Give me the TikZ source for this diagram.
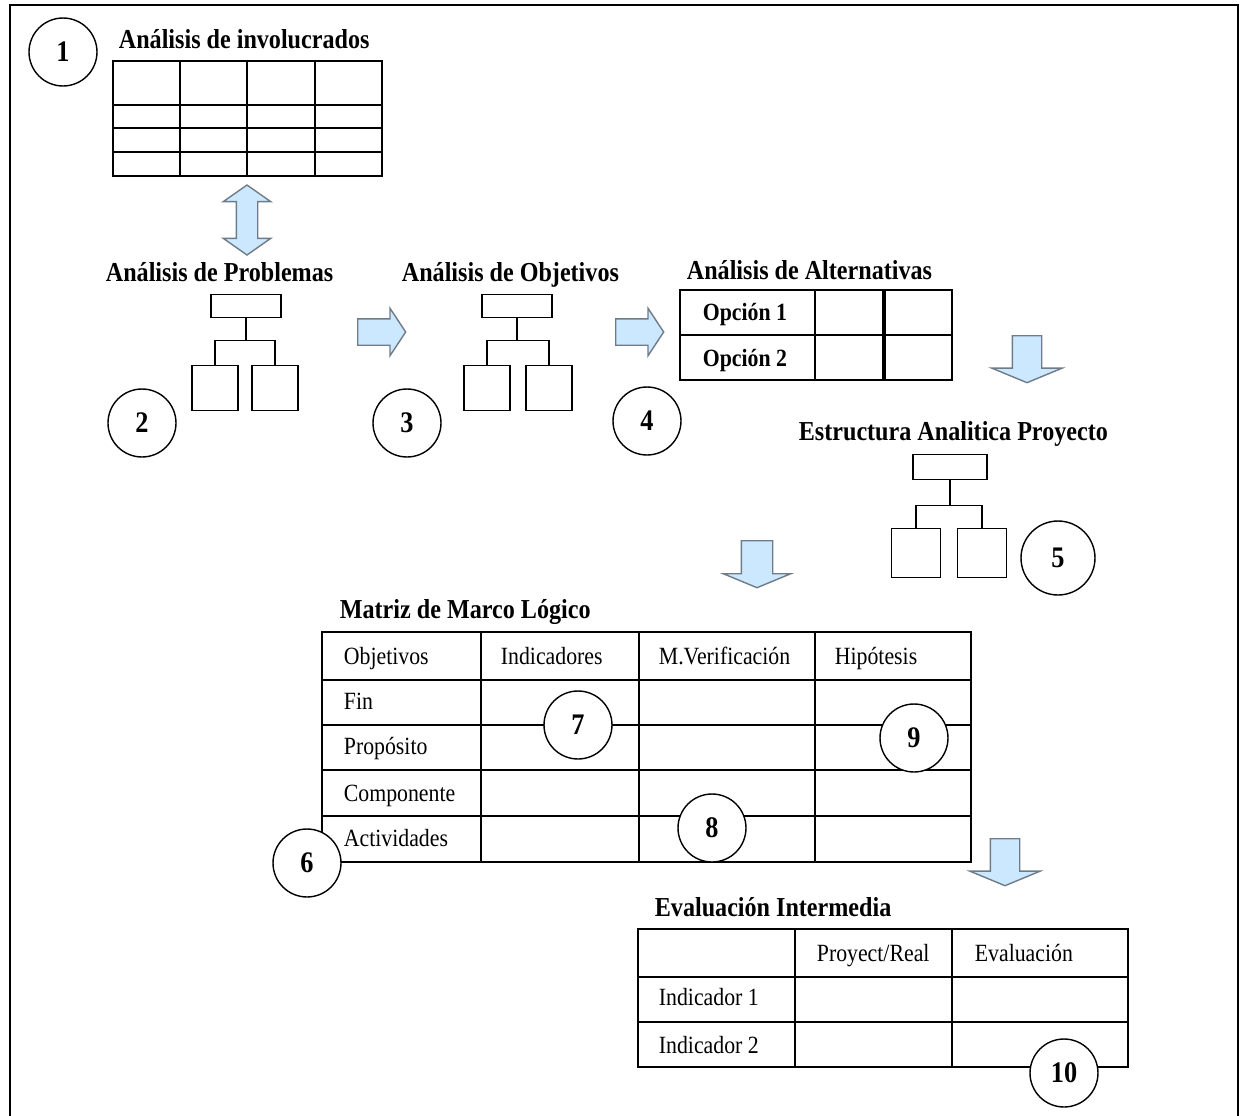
\documentclass[tikz,border=0pt]{standalone}
\usepackage{fontspec}
\setmainfont[FakeStretch=0.88]{Liberation Serif}
\usetikzlibrary{shapes.arrows}
\definecolor{flecha}{HTML}{CCE8FF}
\definecolor{borde}{HTML}{6F7C88}
\begin{document}
\begin{tikzpicture}[x=0.02cm,y=-0.02cm,line width=1pt]
        \tikzstyle{numero}=[circle,draw,fill=white,line width=0.8pt,minimum size=1.36cm,inner sep=0pt,font=\fontsize{17}{17}\selectfont\bfseries]
        \tikzstyle{titulo}=[anchor=west,inner sep=0pt,yshift=-0.08cm,text height=0.72em,text depth=0.2em,font=\fontsize{15.6}{16}\selectfont\bfseries]
        \tikzstyle{celda}=[anchor=west,inner sep=0pt,yshift=-0.08cm,text height=0.72em,text depth=0.2em,font=\fontsize{14.1}{15}\selectfont]
        \tikzstyle{cajita}=[draw,minimum width=1.4cm,minimum height=0.46cm,inner sep=0pt]
        \tikzstyle{caja}=[draw,minimum width=0.92cm,minimum height=0.9cm,inner sep=0pt]
        \tikzstyle{bloque}=[draw=borde,fill=flecha,line width=0.8pt,inner xsep=0pt]
        \tikzstyle{derecha}=[bloque,single arrow,anchor=tail,inner ysep=0.25cm,minimum height=0.96cm,single arrow head extend=0.21cm,single arrow tip angle=113]
        \tikzstyle{abajo}=[bloque,single arrow,anchor=tail,rotate=-90,inner ysep=0.28cm,minimum height=0.94cm,single arrow head extend=0.41cm,single arrow tip angle=135]
        \useasboundingbox (0,0) rectangle (1245,1116);
        \draw (10,1116) -- (10,5) -- (1238,5) -- (1238,1116);
        % involucrados
        \node[titulo] (tinv) at (118,40) {Análisis de involucrados};
        \draw (113,61) rectangle (382,176);
        \draw (180,61) -- (180,176) (247,61) -- (247,176) (315,61) -- (315,176);
        \draw (113,105) -- (382,105) (113,128) -- (382,128) (113,152) -- (382,152);
        \node[numero] (n1) at (63,52) {1};
        \node[bloque,double arrow,rotate=90,inner ysep=0.2cm,minimum height=1.4cm,double arrow head extend=0.26cm,double arrow tip angle=110] (dinv) at (247,220) {};
        % problemas
        \node[titulo] (tprob) at (105,273) {Análisis de Problemas};
        \node[cajita] (p0) at (246,306) {};
        \node[caja] (p1) at (215,388) {};
        \node[caja] (p2) at (275,388) {};
        \draw (p0.south) -- ++(0,22) coordinate (pm);
        \draw (pm) -| (p1.north);
        \draw (pm) -| (p2.north);
        \node[numero] (n2) at (142,423) {2};
        \node[derecha] (f1) at (357,332) {};
        % objetivos
        \node[titulo] (tobj) at (401,273) {Análisis de Objetivos};
        \node[cajita] (o0) at (517,306) {};
        \node[caja] (o1) at (487,388) {};
        \node[caja] (o2) at (549,388) {};
        \draw (o0.south) -- ++(0,22) coordinate (om);
        \draw (om) -| (o1.north);
        \draw (om) -| (o2.north);
        \node[numero] (n3) at (407,423) {3};
        \node[derecha] (f2) at (615,332) {};
        % alternativas
        \node[titulo] (talt) at (686,271) {Análisis de Alternativas};
        \draw (680,290) rectangle (952,380);
        \draw (815,290) -- (815,380) (680,335) -- (952,335);
        \draw[line width=2.2pt] (884,290) -- (884,380);
        \node[celda,font=\fontsize{14.1}{15}\selectfont\bfseries] (op1) at (702,312) {Opción 1};
        \node[celda,font=\fontsize{14.1}{15}\selectfont\bfseries] (op2) at (702,358) {Opción 2};
        \node[numero] (n4) at (647,421) {4};
        \node[abajo] (f3) at (1027,335) {};
        % estructura analitica
        \node[titulo] (test) at (798,432) {Estructura Analitica Proyecto};
        \node[cajita,minimum width=1.48cm,minimum height=0.5cm] (e0) at (950,467) {};
        \node[caja,minimum width=0.98cm,minimum height=0.98cm] (e1) at (916,553) {};
        \node[caja,minimum width=0.98cm,minimum height=0.98cm] (e2) at (982,553) {};
        \draw (e0.south) -- ++(0,25) coordinate (em);
        \draw (em) -| (e1.north);
        \draw (em) -| (e2.north);
        \node[numero,minimum size=1.48cm] (n5) at (1058,558) {5};
        \node[abajo,inner ysep=0.3cm,single arrow head extend=0.36cm] (f4) at (757,540) {};
        % marco logico
        \node[titulo] (tmml) at (339,610) {Matriz de Marco Lógico};
        \draw (322,632) rectangle (971,862);
        \draw (481,632) -- (481,862) (639,632) -- (639,862) (815,632) -- (815,862);
        \draw (322,680) -- (971,680) (322,725) -- (971,725) (322,770) -- (971,770) (322,816) -- (971,816);
        \node[celda] (c1) at (343,656) {Objetivos};
        \node[celda] (c2) at (500,656) {Indicadores};
        \node[celda] (c3) at (658,656) {M.Verificación};
        \node[celda] (c4) at (834,656) {Hipótesis};
        \node[celda] (r1) at (343,701) {Fin};
        \node[celda] (r2) at (343,746) {Propósito};
        \node[celda] (r3) at (343,793) {Componente};
        \node[celda] (r4) at (343,838) {Actividades};
        \node[numero] (n6) at (307,863) {6};
        \node[numero] (n7) at (578,725) {7};
        \node[numero] (n8) at (712,828) {8};
        \node[numero] (n9) at (914,738) {9};
        \node[abajo] (f5) at (1005,838) {};
        % evaluacion
        \node[titulo] (teva) at (654,908) {Evaluación Intermedia};
        \draw (638,929) rectangle (1128,1067);
        \draw (795,929) -- (795,1067) (952,929) -- (952,1067);
        \draw (638,977) -- (1128,977) (638,1022) -- (1128,1022);
        \node[celda] (v1) at (816,953) {Proyect/Real};
        \node[celda] (v2) at (974,953) {Evaluación};
        \node[celda] (i1) at (658,997) {Indicador 1};
        \node[celda] (i2) at (658,1045) {Indicador 2};
        \node[numero] (n10) at (1064,1073) {10};
\end{tikzpicture}
\end{document}
